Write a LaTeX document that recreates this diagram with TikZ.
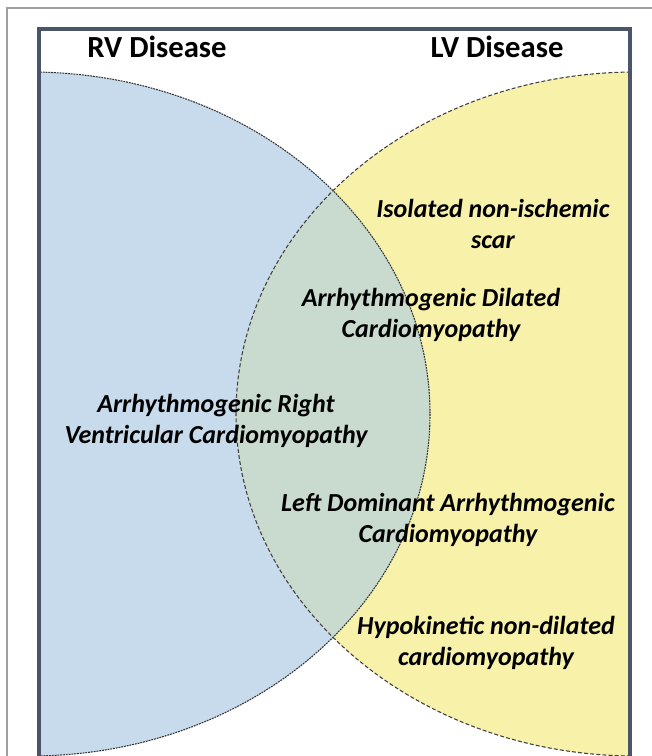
\documentclass[tikz,border=0pt]{standalone}
\usepackage{fontspec}
\setmainfont{Carlito}
\usepackage{xcolor}
\definecolor{rvblue}{RGB}{200,219,236}
\definecolor{lvyellow}{RGB}{248,241,170}
\definecolor{bothgreen}{RGB}{201,218,206}
\definecolor{framegray}{RGB}{75,85,105}

\begin{document}
\begin{tikzpicture}[
    x=0.75pt, y=-0.75pt,
    title/.style={font=\bfseries\fontsize{23}{27}\selectfont, inner sep=0pt},
    lbl/.style={font=\bfseries\itshape\fontsize{19.5}{23.5}\selectfont,
                align=center, inner sep=0pt},
    rvrim/.style={draw=black!80, line width=0.8pt, dash pattern=on 1.4pt off 0.7pt},
    lvrim/.style={draw=black!75, line width=0.8pt, dash pattern=on 3pt off 1.6pt},
  ]
  \clip (0,0) rectangle (652,756);

  % outer figure border
  \draw[gray!75, line width=0.8pt] (7,780) -- (7,8) -- (680,8);

  % the two disease sets
  \begin{scope}
    \clip (39,29.5) rectangle (630,800);
    \fill[rvblue] (30,414) ellipse [x radius=400, y radius=342];
    \fill[lvyellow] (636,414) ellipse [x radius=400, y radius=342];
    \begin{scope}
      \clip (30,414) ellipse [x radius=400, y radius=342];
      \fill[bothgreen] (636,414) ellipse [x radius=400, y radius=342];
    \end{scope}
    \draw[rvrim] (30,414) ellipse [x radius=400, y radius=342];
    \draw[lvrim] (636,414) ellipse [x radius=400, y radius=342];
  \end{scope}

  % frame
  \draw[framegray, line width=3pt] (39,29.5) rectangle (630,800);

  % set titles
  \node[title] (rvtitle) at (157,47) {RV Disease};
  \node[title] (lvtitle) at (497,47) {LV Disease};

  % conditions
  \node[lbl] (scar) at (493,224) {Isolated non-ischemic\\scar};
  \node[lbl] (adc)  at (431,315) {Arrhythmogenic Dilated\\Cardiomyopathy};
  \node[lbl] (arvc) at (216,421) {Arrhythmogenic Right\\Ventricular Cardiomyopathy};
  \node[lbl] (ldac) at (448,520) {Left Dominant Arrhythmogenic\\Cardiomyopathy};
  \node[lbl] (hndc) at (486,643) {Hypokinetic non-dilated\\cardiomyopathy};
\end{tikzpicture}
\end{document}
